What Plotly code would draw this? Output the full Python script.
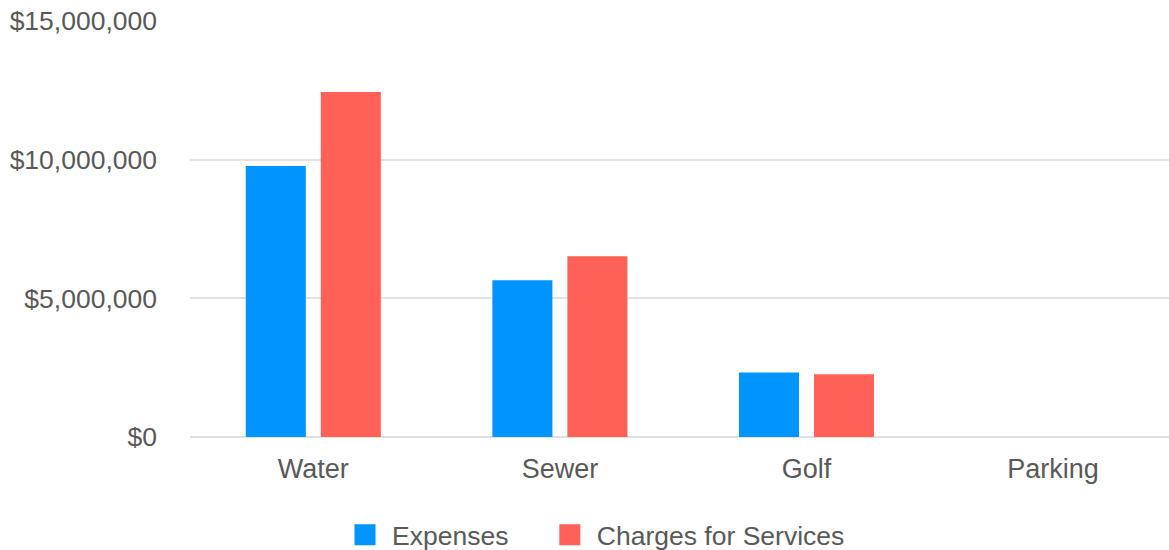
import plotly.graph_objects as go

categories = ["Water", "Sewer", "Golf", "Parking"]
expenses = [9770000, 5650000, 2330000, 0]
charges = [12440000, 6520000, 2260000, 0]
series_names = ["Expenses", "Charges for Services"]
colors = ["#0094FF", "#FF6157"]
y_ticks = [0, 5000000, 10000000, 15000000]
y_tick_labels = ["$0", "$5,000,000", "$10,000,000", "$15,000,000"]

FONT = "Liberation Sans, Arial, sans-serif"
TXT = "#595959"
NBSP = "\u00a0"

fig = go.Figure()
for i, (name, vals, col) in enumerate(zip(series_names, [expenses, charges], colors)):
    fig.add_trace(go.Bar(x=categories, y=vals, name=name, marker=dict(color=col, line=dict(width=0)),
                         showlegend=False))
    label = name + (NBSP * 4 if i == 0 else "")
    fig.add_trace(go.Scatter(x=[None], y=[None], mode="markers", name=label,
                             marker=dict(symbol="square", size=16, color=col,
                                         line=dict(color=col, width=9))))

fig.update_layout(
    width=1169, height=550,
    margin=dict(l=190, r=0, t=21, b=113, autoexpand=False),
    plot_bgcolor="white", paper_bgcolor="white",
    barmode="group", bargap=0.3915, bargroupgap=0.2,
    font=dict(family=FONT, color=TXT, size=24),
    xaxis=dict(range=[-0.5, 3.47], showgrid=False, showline=False, zeroline=False,
               ticks="", tickfont=dict(size=27, color=TXT), ticklabelstandoff=13),
    yaxis=dict(range=[0, 15000000], tickvals=y_ticks, ticktext=y_tick_labels,
               showgrid=True, gridcolor="#e3e3e3", gridwidth=1.5,
               zeroline=True, zerolinecolor="#e0e0e0", zerolinewidth=2,
               showline=False, ticks="", tickfont=dict(size=26.5, color=TXT),
               ticklabelstandoff=32),
    legend=dict(orientation="h", xref="container", yref="container",
                x=338 / 1169, xanchor="left", y=1 - 535 / 550, yanchor="middle",
                font=dict(size=26.5, color=TXT), itemwidth=44,
                bgcolor="rgba(0,0,0,0)"),
)

fig.write_html("out.html")
